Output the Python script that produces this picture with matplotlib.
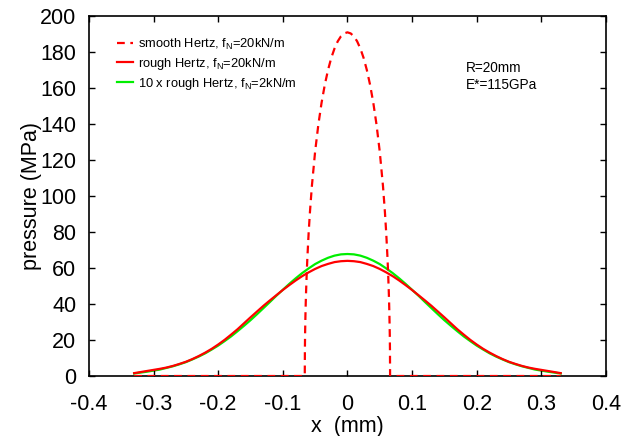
import matplotlib
matplotlib.use("Agg")
import matplotlib.pyplot as plt

plt.rcParams['font.family'] = ['Liberation Sans', 'DejaVu Sans']
plt.rcParams['mathtext.fontset'] = 'custom'
plt.rcParams['mathtext.rm'] = 'Liberation Sans'
plt.rcParams['mathtext.it'] = 'Liberation Sans'

# ---- data ----
x_smooth = [-0.33, -0.066, -0.0658, -0.0655, -0.065, -0.0645, -0.064, -0.063, -0.062, -0.06,
            -0.058, -0.055, -0.05, -0.045, -0.04, -0.035, -0.03, -0.025, -0.02, -0.015,
            -0.01, -0.005, 0.0, 0.005, 0.01, 0.015, 0.02, 0.025, 0.03, 0.035, 0.04,
            0.045, 0.05, 0.055, 0.058, 0.06, 0.062, 0.063, 0.064, 0.0645, 0.065,
            0.0655, 0.0658, 0.066, 0.33]
p_smooth = [0.0, 0.0, 14.9, 23.5, 33.1, 40.5, 46.7, 56.9, 65.5, 79.6,
            91.1, 105.6, 124.7, 139.7, 151.9, 161.9, 170.1, 176.8, 182.0, 186.0,
            188.8, 190.4, 191.0, 190.4, 188.8, 186.0, 182.0, 176.8, 170.1, 161.9, 151.9,
            139.7, 124.7, 105.6, 91.1, 79.6, 65.5, 56.9, 46.7, 40.5, 33.1,
            23.5, 14.9, 0.0, 0.0]

x_rough = [-0.33, -0.32, -0.31, -0.30, -0.29, -0.28, -0.27, -0.26, -0.25, -0.24, -0.23,
           -0.22, -0.21, -0.20, -0.19, -0.18, -0.17, -0.16, -0.15, -0.14, -0.13, -0.12,
           -0.11, -0.10, -0.09, -0.08, -0.07, -0.06, -0.05, -0.04, -0.03, -0.02, -0.01,
           0.0, 0.01, 0.02, 0.03, 0.04, 0.05, 0.06, 0.07, 0.08, 0.09, 0.10, 0.11,
           0.12, 0.13, 0.14, 0.15, 0.16, 0.17, 0.18, 0.19, 0.20, 0.21, 0.22, 0.23,
           0.24, 0.25, 0.26, 0.27, 0.28, 0.29, 0.30, 0.31, 0.32, 0.33]
p_rough = [1.6, 2.2, 2.8, 3.4, 4.0, 4.7, 5.6, 6.7, 7.9, 9.4, 11.1,
           13.0, 15.1, 17.5, 20.1, 23.0, 26.0, 29.3, 32.6, 35.8, 39.0, 42.0,
           44.9, 47.8, 50.5, 53.1, 55.5, 57.6, 59.5, 61.1, 62.3, 63.3, 63.8,
           64.0, 63.8, 63.3, 62.3, 61.1, 59.5, 57.6, 55.5, 53.1, 50.5, 47.8, 44.9,
           42.0, 39.0, 35.8, 32.6, 29.3, 26.0, 23.0, 20.1, 17.5, 15.1, 13.0, 11.1,
           9.4, 7.9, 6.7, 5.6, 4.7, 4.0, 3.4, 2.8, 2.2, 1.6]
p_rough10 = [1.4, 1.9, 2.4, 3.0, 3.6, 4.5, 5.4, 6.5, 7.7, 9.2, 10.8,
             12.6, 14.7, 16.9, 19.4, 22.0, 24.9, 27.9, 31.0, 34.3, 37.7, 41.1,
             44.6, 47.9, 51.2, 54.3, 57.2, 59.8, 62.2, 64.1, 65.7, 66.9, 67.6,
             67.8, 67.6, 66.9, 65.7, 64.1, 62.2, 59.8, 57.2, 54.3, 51.2, 47.9, 44.6,
             41.1, 37.7, 34.3, 31.0, 27.9, 24.9, 22.0, 19.4, 16.9, 14.7, 12.6, 10.8,
             9.2, 7.7, 6.5, 5.4, 4.5, 3.6, 3.0, 2.4, 1.9, 1.4]

labels = ['smooth Hertz, f$_\\mathrm{N}$=20kN/m',
          'rough Hertz, f$_\\mathrm{N}$=20kN/m',
          '10 x rough Hertz, f$_\\mathrm{N}$=2kN/m']
xticks = [-0.4, -0.3, -0.2, -0.1, 0, 0.1, 0.2, 0.3, 0.4]
xticklabels = ['-0.4', '-0.3', '-0.2', '-0.1', '0', '0.1', '0.2', '0.3', '0.4']
yticks = [0, 20, 40, 60, 80, 100, 120, 140, 160, 180, 200]

fig = plt.figure(figsize=(6.26, 4.36), dpi=100)
ax = fig.add_axes([0.142, 0.1376, 0.826, 0.8254])

ax.plot(x_smooth, p_smooth, color='#ff0000', lw=1.6, ls=(0, (3.5, 2.5)), label=labels[0], zorder=3)
ax.plot(x_rough, p_rough, color='#ff0000', lw=1.6, label=labels[1], zorder=2)
ax.plot(x_rough, p_rough10, color='#00ee00', lw=1.6, label=labels[2], zorder=1)

ax.set_xlim(-0.4, 0.4)
ax.set_ylim(0, 200)
ax.set_xticks(xticks)
ax.set_xticklabels(xticklabels)
ax.set_yticks(yticks)
ax.tick_params(direction='in', top=True, right=True, length=4, width=1,
               labelsize=15.5)
ax.tick_params(axis='y', pad=9)
ax.tick_params(axis='x', pad=13)
for s in ax.spines.values():
    s.set_linewidth(1.2)

ax.set_xlabel('x  (mm)', fontsize=15.5, labelpad=1)
ax.set_ylabel('pressure (MPa)', fontsize=15.5, labelpad=-1)

leg = ax.legend(loc='upper left', bbox_to_anchor=(0.054, 0.942), frameon=False,
                fontsize=9.3, handlelength=1.25, handletextpad=0.4,
                labelspacing=0.3, borderaxespad=0.0, borderpad=0.0)

ax.text(0.73, 0.833, 'R=20mm\nE*=115GPa', transform=ax.transAxes,
        fontsize=9.8, va='center', ha='left', linespacing=1.3)

fig.savefig('out.png', dpi=100)
